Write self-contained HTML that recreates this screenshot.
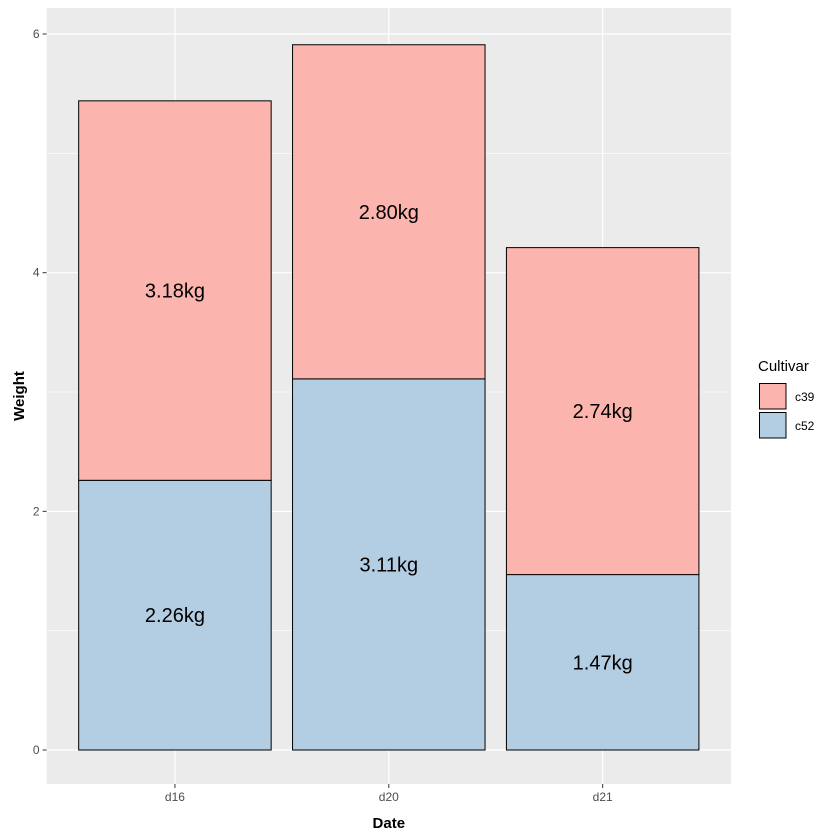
<!DOCTYPE html>
<html><head><meta charset="utf-8"><style>
body{margin:0;background:#fff;}
svg{display:block;font-family:"Liberation Sans",Arial,sans-serif;}
</style></head><body>
<svg id="chart" width="840" height="840"></svg>
<script>
const categories = ["d16","d20","d21"];
const cultivars = ["c52","c39"];
const c52Values = [2.26, 3.11, 1.47];
const c39Values = [3.18, 2.80, 2.74];
const yTicks = [0,2,4,6];
const fills = {c39:"#FBB4AE", c52:"#B3CDE3"};

const NS="http://www.w3.org/2000/svg";
const svg=document.getElementById('chart');
const pL=46.6,pR=731,pT=8,pB=784;
const y0=750, yScale=119.33;
function yPos(v){return y0 - v*yScale;}
const step=(pR-pL)/3.2;
function xPos(i){return pL + (i+1-0.4)*step;}
function mk(tag,attrs,name,text){
  const e=document.createElementNS(NS,tag);
  for(const k in attrs) e.setAttribute(k,attrs[k]);
  
  
  if(text!==undefined) e.textContent=text;
  svg.appendChild(e); return e;
}
mk('rect',{x:pL,y:pT,width:pR-pL,height:pB-pT,fill:'#EBEBEB'},'plot-panel');
for(let i=0;i<yTicks.length-1;i++){
  const v=(yTicks[i]+yTicks[i+1])/2;
  mk('line',{x1:pL,x2:pR,y1:yPos(v),y2:yPos(v),stroke:'#fff','stroke-width':0.6},'minor-gridline');
}
yTicks.forEach(t=>{
  mk('line',{x1:pL,x2:pR,y1:yPos(t),y2:yPos(t),stroke:'#fff','stroke-width':1.2},'major-gridline');
  mk('line',{x1:pL-4,x2:pL,y1:yPos(t),y2:yPos(t),stroke:'#333','stroke-width':1},'y-tick');
  mk('text',{x:pL-7,y:yPos(t)+4,'text-anchor':'end','font-size':12,fill:'#4D4D4D'},'y-tick-label',String(t));
});
categories.forEach((c,i)=>{
  const x=xPos(i);
  mk('line',{x1:x,x2:x,y1:pT,y2:pB,stroke:'#fff','stroke-width':1.2},'x-gridline');
  mk('line',{x1:x,x2:x,y1:pB,y2:pB+4,stroke:'#333','stroke-width':1},'x-tick');
  mk('text',{x:x,y:pB+17,'text-anchor':'middle','font-size':12,fill:'#4D4D4D'},'x-tick-label',c);
});
const bw=0.9*step;
categories.forEach((c,i)=>{
  const x=xPos(i)-bw/2;
  const segs=[["c52",0,c52Values[i]],["c39",c52Values[i],c39Values[i]]];
  segs.forEach(([cv,base,v])=>{
    mk('rect',{x:x,y:yPos(base+v),width:bw,height:v*yScale,fill:fills[cv],stroke:'#000','stroke-width':1},'bar-'+cv+'-'+c);
    mk('text',{x:xPos(i),y:yPos(base+v/2)+7,'text-anchor':'middle','font-size':20,fill:'#000'},'bar-label-'+cv+'-'+c,v.toFixed(2)+'kg');
  });
});
mk('text',{x:(pL+pR)/2,y:828,'text-anchor':'middle','font-size':15,'font-weight':'bold',fill:'#000'},'x-axis-title','Date');
mk('text',{x:24,y:(pT+pB)/2,'text-anchor':'middle','font-size':15,'font-weight':'bold',fill:'#000',transform:'rotate(-90 24 '+((pT+pB)/2)+')'},'y-axis-title','Weight');
mk('text',{x:758,y:371,'font-size':15,fill:'#000'},'legend-title','Cultivar');
[["c39",383],["c52",412]].forEach(([cv,ky])=>{
  mk('rect',{x:759.5,y:ky+0.5,width:26.5,height:25.5,fill:fills[cv],stroke:'#000','stroke-width':1},'legend-key-'+cv);
  mk('text',{x:795,y:ky+18,'font-size':12,fill:'#000'},'legend-label-'+cv,cv);
});
</script>
</body></html>
